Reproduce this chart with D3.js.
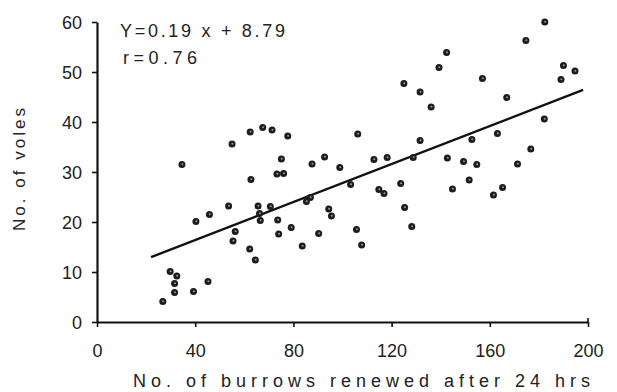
<!DOCTYPE html>
<html>
<head>
<meta charset="utf-8">
<script src="https://cdn.jsdelivr.net/npm/d3@7"></script>
<style>
  html, body { margin: 0; padding: 0; background: #fff; }
  svg { display: block; }
  text { font-family: "Liberation Sans", Arial, sans-serif; fill: #222; }
</style>
</head>
<body>
<svg id="chart" width="617" height="392"></svg>
<script>
// Burrows renewed after 24 h (x) vs. voles caught (y), one entry per site
const burrows = [55.0, 62.4, 67.5, 71.3, 77.7, 106.2, 125.0, 131.6, 136.1, 131.6,
  75.1, 92.7, 112.8, 118.2, 182.4, 174.7, 142.4, 139.3, 190.0, 194.7,
  189.0, 157.0, 166.9, 182.2, 163.1, 152.7, 176.7, 142.7, 34.6, 62.7,
  53.6, 45.8, 40.3, 65.6, 56.3, 55.4, 62.2, 64.5, 29.8, 32.5,
  31.6, 45.2, 39.3, 31.6, 26.8, 87.6, 98.9, 128.8, 73.3, 76.0,
  103.3, 114.8, 116.9, 123.7, 85.3, 86.9, 70.6, 66.2, 66.5, 73.6,
  94.4, 95.5, 125.3, 128.2, 74.0, 79.1, 90.3, 105.7, 83.6, 107.8,
  149.3, 154.7, 171.3, 151.6, 144.8, 165.2, 161.5];
const voles = [35.6, 38.0, 38.9, 38.4, 37.2, 37.6, 47.7, 46.0, 43.0, 36.3,
  32.6, 33.0, 32.5, 32.9, 60.0, 56.3, 53.9, 50.9, 51.3, 50.2,
  48.5, 48.7, 44.9, 40.6, 37.7, 36.5, 34.6, 32.8, 31.5, 28.5,
  23.2, 21.5, 20.1, 23.2, 18.1, 16.2, 14.6, 12.4, 10.1, 9.2,
  7.7, 8.1, 6.1, 5.9, 4.1, 31.6, 30.9, 32.9, 29.6, 29.7,
  27.5, 26.5, 25.7, 27.7, 24.1, 24.9, 23.1, 21.7, 20.3, 20.4,
  22.6, 21.2, 22.9, 19.1, 17.6, 18.9, 17.7, 18.5, 15.2, 15.4,
  32.1, 31.5, 31.6, 28.4, 26.6, 26.9, 25.4];

const xTicks = [0, 40, 80, 120, 160, 200];
const yTicks = [0, 10, 20, 30, 40, 50, 60];

// Fitted regression: Y = 0.19x + 8.79, r = 0.76
const slope = 0.19, intercept = 8.79;
const fitRange = [22, 198];
const equationLabel = "Y=0.19 x + 8.79";
const rLabel = "r=0.76";
const xTitle = "No. of burrows renewed after 24 hrs";
const yTitle = "No. of voles";

const svg = d3.select("#chart");
const x = d3.scaleLinear().domain([0, 200]).range([97, 588]);
const y = d3.scaleLinear().domain([0, 60]).range([322, 22]);

// Axes
const xAxis = svg.append("g")
  .attr("transform", `translate(0,${y(0)})`)
  .call(d3.axisBottom(x).tickValues(xTicks).tickSize(5).tickSizeOuter(0).tickPadding(17));
const yAxis = svg.append("g")
  .attr("transform", `translate(${x(0)},0)`)
  .call(d3.axisLeft(y).tickValues(yTicks).tickSize(5).tickSizeOuter(0).tickPadding(10));

[xAxis, yAxis].forEach(g => {
  g.select(".domain").attr("stroke", "#111").attr("stroke-width", 2.2);
  g.selectAll(".tick line").attr("stroke", "#111").attr("stroke-width", 1.6);
  g.selectAll(".tick text")
    .style("font-family", '"Liberation Sans", Arial, sans-serif')
    .style("font-size", "18px")
    .attr("fill", "#222");
});
xAxis.selectAll(".tick text").attr("dy", "0.71em");
yAxis.selectAll(".tick text").attr("dy", "0.36em");
// small upward tick closing the x axis at 200
svg.append("line")
  .attr("x1", x(200)).attr("x2", x(200))
  .attr("y1", y(0) - 4).attr("y2", y(0))
  .attr("stroke", "#111").attr("stroke-width", 1.6);

// Regression line
svg.append("line")
  .attr("x1", x(fitRange[0])).attr("y1", y(slope * fitRange[0] + intercept))
  .attr("x2", x(fitRange[1])).attr("y2", y(slope * fitRange[1] + intercept))
  .attr("stroke", "#111").attr("stroke-width", 2.4);

// Points
const pts = burrows.map((b, i) => ({ b, v: voles[i] }));
const dots = svg.append("g");
dots.selectAll("circle.dot").data(pts).join("circle")
  .attr("class", "dot")
  .attr("cx", d => x(d.b)).attr("cy", d => y(d.v))
  .attr("r", 3.5).attr("fill", "#1c1c1c");
dots.selectAll("circle.spot").data(pts).join("circle")
  .attr("class", "spot")
  .attr("cx", d => x(d.b) + 0.4).attr("cy", d => y(d.v) - 0.3)
  .attr("r", 1.0).attr("fill", "#fff").attr("opacity", 0.55);

// Equation and correlation
svg.append("text").attr("x", 120).attr("y", 37)
  .attr("textLength", 165).attr("lengthAdjust", "spacing")
  .style("font-size", "18px").text(equationLabel);
svg.append("text").attr("x", 123).attr("y", 64)
  .attr("textLength", 74).attr("lengthAdjust", "spacing")
  .style("font-size", "18px").text(rLabel);

// Axis titles
svg.append("text").attr("x", 133).attr("y", 387)
  .attr("textLength", 457).attr("lengthAdjust", "spacing")
  .style("font-size", "18px").text(xTitle);
svg.append("text")
  .attr("transform", "translate(25,231) rotate(-90)")
  .attr("textLength", 123).attr("lengthAdjust", "spacing")
  .style("font-size", "17px").text(yTitle);
</script>
</body>
</html>
